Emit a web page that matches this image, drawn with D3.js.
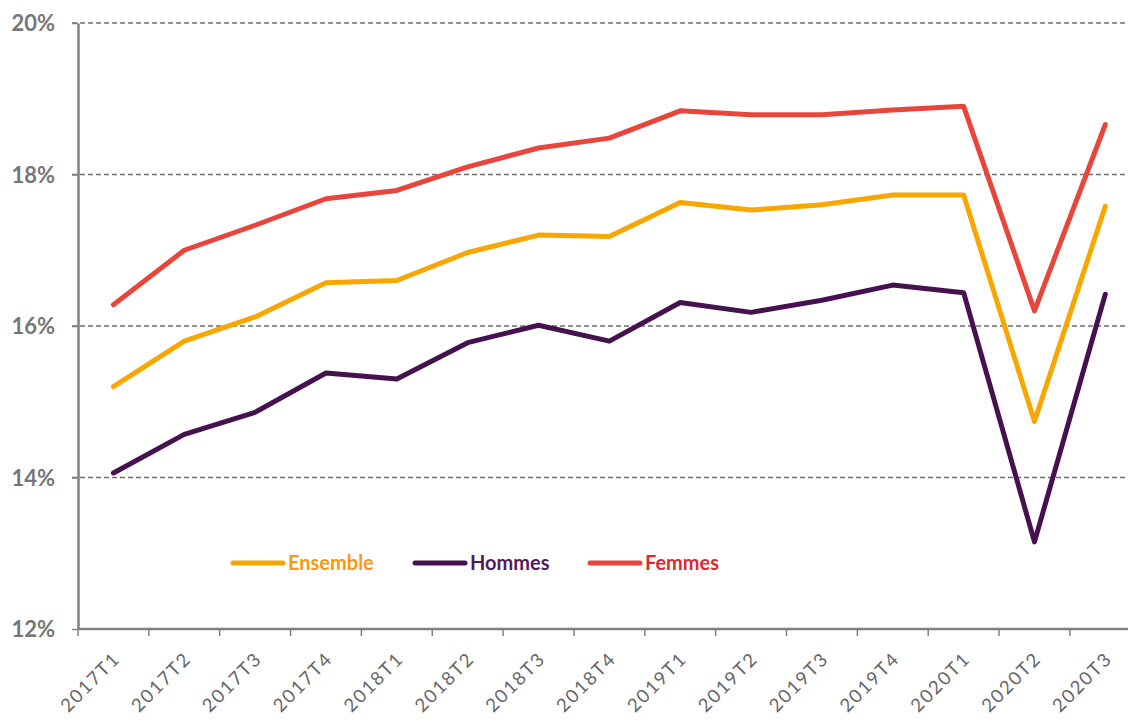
<!DOCTYPE html>
<html>
<head>
<meta charset="utf-8">
<script src="https://cdn.jsdelivr.net/npm/d3@7"></script>
<style>
html,body{margin:0;padding:0;background:#fff;}
svg{display:block;}
</style>
</head>
<body>
<svg id="chart" width="1128" height="720"></svg>
<script>
const categories = ["2017T1","2017T2","2017T3","2017T4","2018T1","2018T2","2018T3","2018T4","2019T1","2019T2","2019T3","2019T4","2020T1","2020T2","2020T3"];
const ensemble = [15.2,15.8,16.12,16.57,16.6,16.97,17.2,17.18,17.63,17.53,17.6,17.73,17.73,14.74,17.58];
const hommes   = [14.06,14.57,14.86,15.38,15.3,15.78,16.01,15.8,16.31,16.18,16.34,16.54,16.44,13.15,16.42];
const femmes   = [16.28,17.0,17.33,17.68,17.79,18.1,18.35,18.48,18.84,18.79,18.79,18.85,18.9,16.2,18.66];
const yTicks = [12,14,16,18,20];
const seriesNames = ["Ensemble","Hommes","Femmes"];

const colors = {Ensemble:"#F8A700", Hommes:"#46114F", Femmes:"#E8453C"};
const textColors = {Ensemble:"#F7980F", Hommes:"#521A5C", Femmes:"#D92B30"};

const svg = d3.select("#chart");
const mLeft = 78, mBottom = 629, mTop = 23;
const step = 70.85;
const x = d3.scaleBand().domain(categories).range([mLeft, mLeft + step*categories.length]).paddingInner(0).paddingOuter(0);
const y = d3.scaleLinear().domain([12,20]).range([mBottom, mTop]);

// gridlines
svg.append("g").selectAll("line").data(yTicks.filter(t=>t>12)).join("line")
  .attr("x1", mLeft-6).attr("x2", 1128)
  .attr("y1", d=>y(d)).attr("y2", d=>y(d))
  .attr("stroke","#6e6e6e").attr("stroke-width",1.5).attr("stroke-dasharray","5,3");

// y axis
const yAxis = svg.append("g").attr("transform",`translate(${mLeft},0)`)
  .call(d3.axisLeft(y).tickValues(yTicks).tickSize(6).tickSizeOuter(0).tickFormat(d=>d+"%"));
yAxis.select(".domain").attr("stroke","#808080").attr("stroke-width",2.5);
yAxis.selectAll(".tick line").attr("stroke","#808080").attr("stroke-width",1.5);
yAxis.selectAll(".tick text").attr("x",-23).attr("dy","0.36em")
  .attr("font-family","Lato, 'Open Sans', sans-serif").attr("font-weight","bold")
  .attr("font-size",22).attr("fill","#767676");

// x axis
const xAxis = svg.append("g").attr("transform",`translate(0,${mBottom})`)
  .call(d3.axisBottom(x).tickSize(0).tickSizeOuter(0));
xAxis.select(".domain").attr("stroke","#808080").attr("stroke-width",2.5)
  .attr("d", `M${mLeft},0H1128`);
// boundary ticks
xAxis.append("g").selectAll("line").data(categories).join("line")
  .attr("x1", d=>x(d)).attr("x2", d=>x(d)).attr("y1",0).attr("y2",7)
  .attr("stroke","#808080").attr("stroke-width",1.5);
xAxis.selectAll(".tick text")
  .attr("font-family","Lato, 'Open Sans', sans-serif").attr("font-size",18.5)
  .attr("letter-spacing","1.8px")
  .attr("fill","#666").attr("text-anchor","end")
  .attr("dy",0).attr("y",0)
  .attr("transform","translate(8,31) rotate(-45)");

// lines
const data = {Ensemble:ensemble, Hommes:hommes, Femmes:femmes};
const line = d3.line().x((d,i)=>x(categories[i])+x.bandwidth()/2).y(d=>y(d));
seriesNames.forEach(name=>{
  svg.append("path").datum(data[name])
    .attr("d", line).attr("fill","none")
    .attr("stroke", colors[name]).attr("stroke-width",5)
    .attr("stroke-linecap","round").attr("stroke-linejoin","round");
});

// legend
const legendX = [233, 415, 590];
const lg = svg.append("g").attr("transform","translate(0,563)");
seriesNames.forEach((name,i)=>{
  lg.append("line").attr("x1",legendX[i]).attr("x2",legendX[i]+50).attr("y1",0).attr("y2",0)
    .attr("stroke",colors[name]).attr("stroke-width",5).attr("stroke-linecap","round");
  lg.append("text").attr("x",legendX[i]+55).attr("y",0).attr("dy","0.36em")
    .attr("font-family","Lato, 'Open Sans', sans-serif").attr("font-weight","bold").attr("font-size",20)
    .attr("fill",textColors[name]).text(name);
});
</script>
</body>
</html>
